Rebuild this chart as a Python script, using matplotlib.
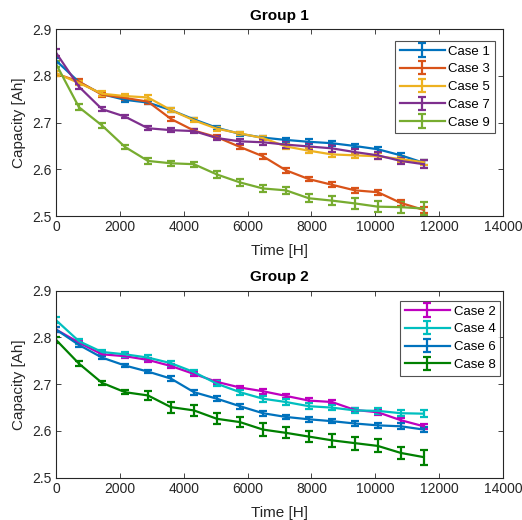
import matplotlib
matplotlib.use('Agg')
import matplotlib.pyplot as plt
import numpy as np

plt.rcParams['font.family'] = ['Liberation Sans', 'DejaVu Sans']

time_h = [0, 720, 1440, 2160, 2880, 3600, 4320, 5040, 5760, 6480, 7200, 7920, 8640, 9360, 10080, 10800, 11520]

# group 1
case1 = [2.833, 2.787, 2.761, 2.749, 2.743, 2.727, 2.707, 2.689, 2.676, 2.668, 2.663, 2.659, 2.656, 2.650, 2.643, 2.630, 2.614]
case3 = [2.805, 2.788, 2.760, 2.753, 2.745, 2.708, 2.683, 2.669, 2.648, 2.628, 2.598, 2.579, 2.567, 2.555, 2.551, 2.528, 2.513]
case5 = [2.806, 2.785, 2.762, 2.757, 2.754, 2.727, 2.705, 2.687, 2.677, 2.667, 2.649, 2.640, 2.632, 2.630, 2.628, 2.622, 2.615]
case7 = [2.850, 2.777, 2.729, 2.713, 2.688, 2.684, 2.682, 2.667, 2.660, 2.658, 2.653, 2.649, 2.645, 2.637, 2.630, 2.618, 2.611]
case9 = [2.826, 2.733, 2.694, 2.648, 2.618, 2.613, 2.611, 2.589, 2.572, 2.559, 2.555, 2.538, 2.533, 2.527, 2.520, 2.519, 2.516]
err1 = [0.005, 0.004, 0.004, 0.004, 0.004, 0.004, 0.004, 0.004, 0.004, 0.004, 0.005, 0.005, 0.005, 0.005, 0.005, 0.005, 0.005]
err3 = [0.005, 0.005, 0.004, 0.004, 0.004, 0.004, 0.004, 0.004, 0.004, 0.005, 0.005, 0.005, 0.005, 0.005, 0.005, 0.006, 0.006]
err5 = [0.005, 0.004, 0.005, 0.005, 0.005, 0.004, 0.004, 0.004, 0.004, 0.004, 0.005, 0.006, 0.006, 0.006, 0.006, 0.006, 0.006]
err7 = [0.007, 0.005, 0.004, 0.004, 0.004, 0.004, 0.004, 0.005, 0.006, 0.006, 0.007, 0.007, 0.007, 0.007, 0.007, 0.007, 0.008]
err9 = [0.006, 0.006, 0.006, 0.005, 0.006, 0.005, 0.005, 0.007, 0.007, 0.008, 0.008, 0.009, 0.010, 0.011, 0.012, 0.012, 0.013]

# group 2
case2 = [2.817, 2.789, 2.764, 2.760, 2.752, 2.739, 2.722, 2.705, 2.693, 2.685, 2.675, 2.665, 2.662, 2.645, 2.640, 2.623, 2.610]
case4 = [2.837, 2.792, 2.769, 2.764, 2.757, 2.745, 2.726, 2.701, 2.683, 2.669, 2.662, 2.653, 2.650, 2.644, 2.643, 2.638, 2.637]
case6 = [2.817, 2.784, 2.757, 2.740, 2.727, 2.712, 2.683, 2.669, 2.653, 2.638, 2.630, 2.625, 2.621, 2.616, 2.612, 2.610, 2.603]
case8 = [2.795, 2.744, 2.703, 2.683, 2.676, 2.651, 2.644, 2.626, 2.619, 2.603, 2.596, 2.588, 2.580, 2.574, 2.568, 2.553, 2.544]
err2 = [0.005, 0.004, 0.004, 0.004, 0.004, 0.004, 0.004, 0.004, 0.004, 0.005, 0.005, 0.005, 0.005, 0.005, 0.005, 0.005, 0.005]
err4 = [0.006, 0.005, 0.005, 0.005, 0.005, 0.005, 0.005, 0.005, 0.005, 0.006, 0.006, 0.006, 0.006, 0.006, 0.006, 0.006, 0.007]
err6 = [0.006, 0.004, 0.004, 0.004, 0.004, 0.005, 0.005, 0.005, 0.005, 0.005, 0.005, 0.005, 0.005, 0.006, 0.006, 0.006, 0.006]
err8 = [0.007, 0.006, 0.004, 0.004, 0.009, 0.012, 0.012, 0.012, 0.011, 0.013, 0.012, 0.012, 0.014, 0.014, 0.014, 0.013, 0.016]

group1 = [('Case 1', case1, err1, '#0072BD'),
          ('Case 3', case3, err3, '#D95319'),
          ('Case 5', case5, err5, '#EDB120'),
          ('Case 7', case7, err7, '#7E2F8E'),
          ('Case 9', case9, err9, '#77AC30')]
group2 = [('Case 2', case2, err2, '#BF00BF'),
          ('Case 4', case4, err4, '#00BFBF'),
          ('Case 6', case6, err6, '#0072BD'),
          ('Case 8', case8, err8, '#008000')]

axcol = '#262626'

fig = plt.figure(figsize=(5.22, 5.2), dpi=100)
ax1 = fig.add_axes([0.1073, 0.5846, 0.8563, 0.359])
ax2 = fig.add_axes([0.1073, 0.0813, 0.8563, 0.3596])


def draw_group(ax, series, title, legend_box):
    for name, vals, err, col in series:
        ax.errorbar(time_h, vals, yerr=err, color=col, lw=1.6, elinewidth=1.6,
                    capsize=3, capthick=1.6, label=name)
    ax.set_xlim(0, 14000)
    ax.set_ylim(2.5, 2.9)
    ax.set_xticks(np.arange(0, 14001, 2000))
    ax.set_yticks([2.5, 2.6, 2.7, 2.8, 2.9])
    ax.tick_params(direction='in', top=True, right=True, labelsize=10,
                   colors=axcol, length=3.5, width=0.6, pad=3)
    for sp in ax.spines.values():
        sp.set_color(axcol)
        sp.set_linewidth(0.8)
    ax.set_title(title, fontsize=11, fontweight='bold', color='black', pad=7)
    ax.set_xlabel('Time [H]', fontsize=11, color=axcol, labelpad=7)
    ax.set_ylabel('Capacity [Ah]', fontsize=11, color=axcol, labelpad=5)
    leg = ax.legend(loc='upper right', bbox_to_anchor=legend_box, fontsize=9.5,
                    frameon=True, fancybox=False, edgecolor=axcol,
                    handlelength=3.4, handletextpad=0.3, labelspacing=0.42,
                    borderpad=0.35, borderaxespad=0)
    leg.get_frame().set_linewidth(0.8)


draw_group(ax1, group1, 'Group 1', (0.982, 0.939))
draw_group(ax2, group2, 'Group 2', (0.993, 0.946))

fig.savefig('out.png', dpi=100)
